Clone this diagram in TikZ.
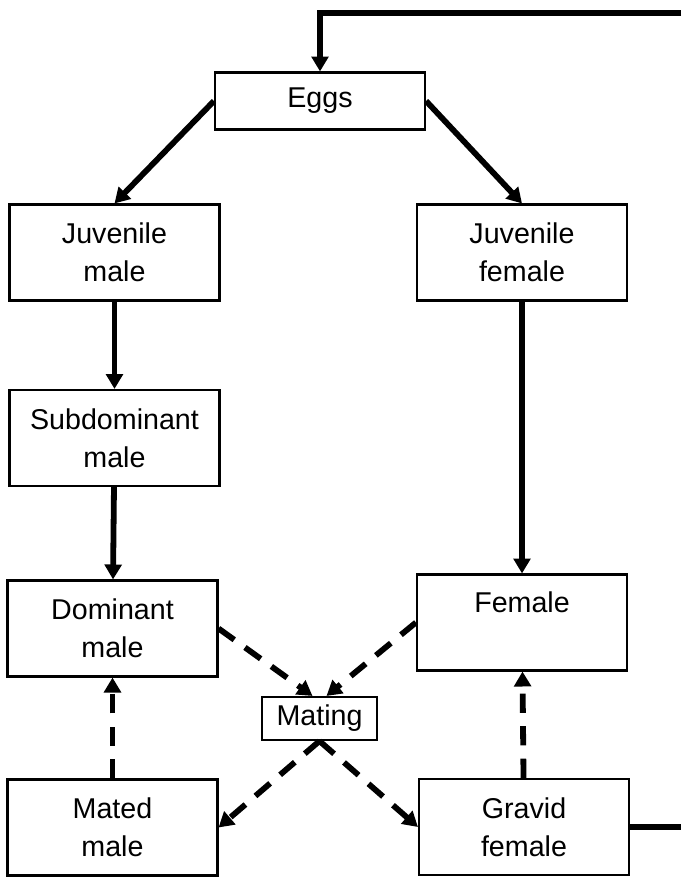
\documentclass[tikz,border=0pt]{standalone}
\usepackage{fontspec}
\setmainfont{Liberation Sans}
\usetikzlibrary{arrows.meta, positioning}

\begin{document}
\begin{tikzpicture}[
		stage/.style={draw, line width=1.2pt, minimum width=4.2cm, minimum height=1.92cm, align=center, font=\fontsize{16.3}{21.5}\selectfont},
		flow/.style={line width=3.3pt, -{Triangle[length=8.5pt,width=9.5pt]}},
		mate/.style={flow, dash pattern=on 11pt off 7.5pt},
		]
	\useasboundingbox (0,0) rectangle (13.62,-17.56);
	\node[stage, minimum height=1.14cm] (eggs) at (6.4,-2.02) {Eggs};
	\node[stage] (juvmale) at (2.29,-5.05) {Juvenile\\male};
	\node[stage] (juvfemale) at (10.44,-5.05) {Juvenile\\female};
	\node[stage] (submale) at (2.29,-8.76) {Subdominant\\male};
	\node[stage] (dommale) at (2.25,-12.57) {Dominant\\male};
	\node[stage, text depth=0.8cm] (female) at (10.44,-12.45) {Female};
	\node[stage, minimum width=2.3cm, minimum height=0.86cm] (mating) at (6.39,-14.37) {Mating};
	\node[stage] (matedmale) at (2.25,-16.55) {Mated\\male};
	\node[stage] (gravid) at (10.48,-16.54) {Gravid\\female};
	\coordinate (loopin) at (13.62,-0.26);
	\coordinate (loopout) at (13.62,-16.54);

	\draw[flow] (loopin) -| (eggs.north);
	\draw[flow] (eggs.west) -- (juvmale.north);
	\draw[flow] (eggs.east) -- (juvfemale.north);
	\draw[flow] (juvmale) -- (submale);
	\draw[flow] (submale) -- (dommale);
	\draw[flow] (juvfemale) -- (female);
	\draw[mate] (dommale.east) -- ([xshift=-0.14cm]mating.north);
	\draw[mate] (female.west) -- ([xshift=0.14cm]mating.north);
	\draw[mate] (mating.south) -- (matedmale.east);
	\draw[mate] (mating.south) -- (gravid.west);
	\draw[mate] (matedmale) -- (dommale);
	\draw[mate] (gravid) -- (female);
	\draw[line width=3.3pt] (gravid.east) -- (loopout);
\end{tikzpicture}
\end{document}
